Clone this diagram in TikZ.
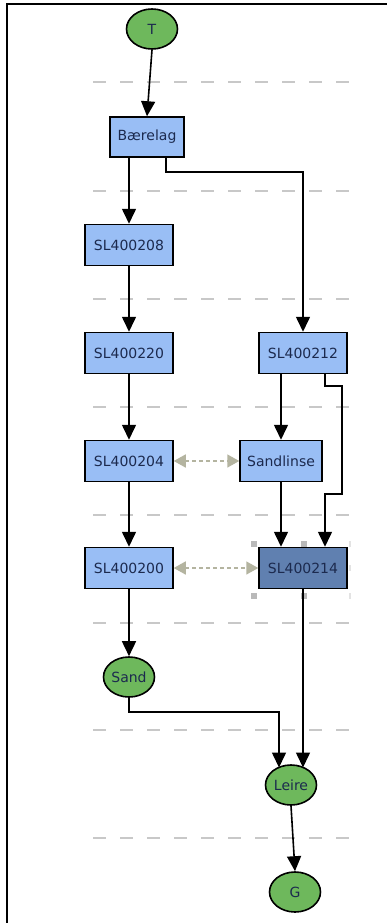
\documentclass[tikz,border=0pt]{standalone}
\usepackage{fontspec}
\setmainfont{DejaVu Sans}
\usetikzlibrary{shapes.geometric,arrows.meta,calc}
\definecolor{boxfill}{RGB}{153,190,245}
\definecolor{boxdark}{RGB}{96,128,176}
\definecolor{ellfill}{RGB}{110,184,92}
\definecolor{txt}{RGB}{28,42,78}
\definecolor{grid}{RGB}{200,200,200}
\definecolor{assoc}{RGB}{180,180,160}
\definecolor{handle}{RGB}{185,185,185}
\tikzset{
  layerbox/.style={draw=black, line width=1.5pt, fill=boxfill, text=txt, minimum width=88pt, minimum height=41pt, inner sep=0pt, font=\fontsize{14}{16}\selectfont},
  endell/.style={ellipse, draw=black, line width=1.6pt, fill=ellfill, text=txt, minimum width=51pt, minimum height=40pt, inner sep=0pt, font=\fontsize{14}{16}\selectfont},
  flow/.style={draw=black, line width=1.6pt, -{Triangle[length=15pt,width=14pt]}},
  assocline/.style={draw=assoc, line width=1.5pt, dash pattern=on 4pt off 3pt, {Triangle[length=12pt,width=13pt]}-{Triangle[length=12pt,width=13pt]}},
  gridline/.style={draw=grid, line width=1.8pt, dash pattern=on 13.4pt off 13.6pt},
  hnd/.style={fill=handle, draw=none, minimum size=6pt, inner sep=0pt},
  hndfaint/.style={fill=handle!40, draw=none, minimum width=2pt, minimum height=6pt, inner sep=0pt}
}
\begin{document}
\begin{tikzpicture}[x=1pt,y=-1pt]
\useasboundingbox (0,0) rectangle (387,923);
\fill[white] (0,0) rectangle (387,923);
% frame
\draw[line width=2.2pt] (387,4) -- (7,4) -- (7,923);
% layer separators
\foreach \yy in {82,191,299,407,515,623,730,838}
  \draw[gridline] (93,\yy) -- (351,\yy);

% nodes
\node[endell] (T) at (152,29) {T};
\node[layerbox, minimum width=74pt, minimum height=40pt] (B) at (147,137) {Bærelag};
\node[layerbox] (S208) at (129,245) {SL400208};
\node[layerbox] (S220) at (129,353) {SL400220};
\node[layerbox] (S212) at (303,353) {SL400212};
\node[layerbox] (S204) at (129,461) {SL400204};
\node[layerbox, minimum width=82pt] (Sl) at (281,461) {Sandlinse};
\node[layerbox] (S200) at (129,568) {SL400200};
\node[layerbox, fill=boxdark] (S214) at (303,568) {SL400214};
\node[endell] (Sand) at (129,677) {Sand};
\node[endell] (Leire) at (291,785) {Leire};
\node[endell] (G) at (295,892) {G};

% selection handles
\foreach \hx/\hy in {254/544,304/544,254/596,304/596}
  \node[hnd] at (\hx,\hy) {};
\foreach \hy in {544,568,596}
  \node[hndfaint] at (350,\hy) {};

% connectors
\draw[flow] (T.south) -- (B.north);
\draw[flow] (B.south -| S208.north) -- (S208.north);
\draw[flow] ($(B.south)+(19,0)$) -- ++(0,14) -| (S212.north);
\draw[flow] (S208.south) -- (S220.north);
\draw[flow] (S220.south) -- (S204.north);
\draw[flow] (S204.south) -- (S200.north);
\draw[flow] (S212.south -| Sl.north) -- (Sl.north);
\draw[flow] ($(S212.south)+(22,0)$) -- ++(0,12) -- ++(17,0) -- ++(0,108) -- ++(-17,0) -- ($(S214.north)+(22,0)$);
\draw[flow] (Sl.south) -- (Sl.south |- S214.north);
\draw[flow] (S200.south) -- (Sand.north);
\coordinate (LinL) at ($(Leire.center)+(-12,-17.5)$);
\coordinate (LinR) at ($(Leire.center)+(12,-17.5)$);
\draw[flow] (Sand.south) -- ++(0,14) -| (LinL);
\draw[flow] (S214.south) -- (LinR);
\draw[flow] (Leire.south) -- (G.north);

% associations
\draw[assocline] (S204.east) -- (Sl.west);
\draw[assocline] (S200.east) -- (S214.west);
\end{tikzpicture}
\end{document}
